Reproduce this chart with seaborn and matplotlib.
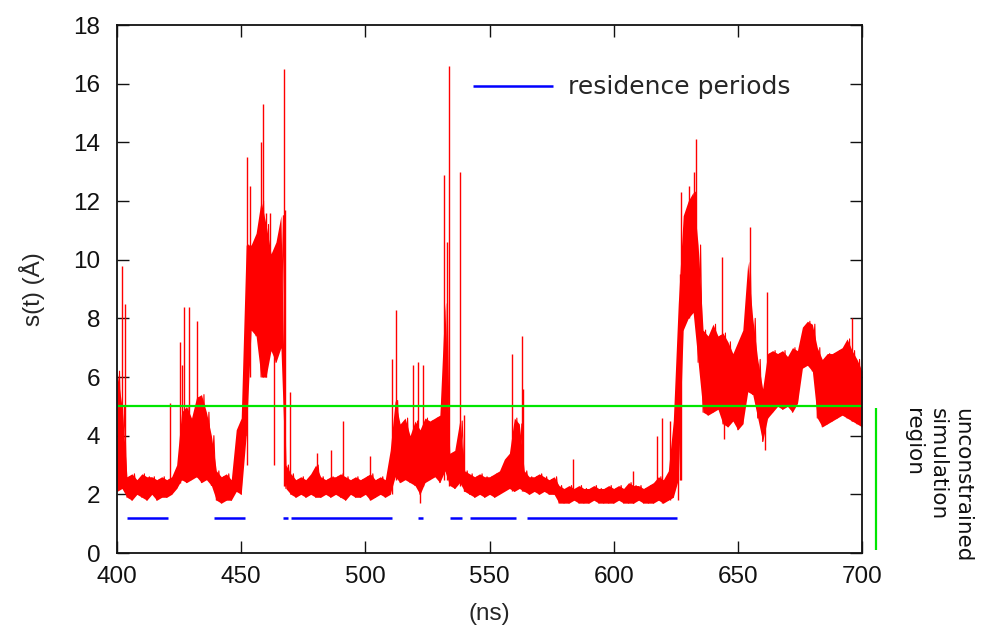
import numpy as np
import pandas as pd
import seaborn as sns
import matplotlib
matplotlib.use('Agg')
import matplotlib.pyplot as plt

# s(t) band, every 2 ns from 400 to 700
t = np.arange(400, 701, 2)
s_lo = [2.1, 2.2, 1.9, 1.8, 2.0, 1.9, 1.8, 2.0, 1.8, 1.9,   # 400-418
        1.9, 2.0, 2.2, 2.5, 2.4, 2.5, 2.6, 2.4, 2.5, 2.3,   # 420-438
        1.8, 1.7, 1.8, 1.8, 2.1, 2.0, 4.0, 7.6, 7.4, 6.0,   # 440-458
        6.0, 6.9, 6.5, 7.0, 2.2, 2.0, 1.9, 2.0, 1.9, 2.0,   # 460-478
        1.9, 1.9, 2.0, 1.9, 2.0, 1.9, 1.8, 2.0, 1.9, 1.9,   # 480-498
        2.0, 1.8, 1.9, 2.0, 1.9, 2.0, 2.6, 2.4, 2.5, 2.4,   # 500-518
        2.3, 2.0, 2.4, 2.5, 2.6, 2.4, 2.8, 2.3, 2.2, 2.4,   # 520-538
        2.1, 2.0, 1.9, 2.0, 1.9, 2.0, 1.9, 2.0, 2.1, 2.2,   # 540-558
        2.1, 2.2, 2.1, 2.0, 2.1, 2.0, 2.1, 2.0, 2.0, 1.7,   # 560-578
        1.7, 1.7, 1.8, 1.7, 1.7, 1.7, 1.8, 1.7, 1.7, 1.7,   # 580-598
        1.7, 1.8, 1.7, 1.7, 1.7, 1.8, 1.7, 1.7, 1.7, 1.8,   # 600-618
        1.7, 1.8, 1.9, 2.5, 7.6, 8.0, 8.2, 6.5, 4.8, 4.7,   # 620-638
        4.8, 4.9, 4.4, 4.3, 4.5, 4.2, 4.4, 5.5, 5.4, 4.6,   # 640-658
        3.8, 4.6, 4.8, 5.0, 4.9, 5.0, 4.8, 5.1, 6.3, 6.4,   # 660-678
        6.2, 4.6, 4.3, 4.4, 4.5, 4.6, 4.7, 4.6, 4.5, 4.4,   # 680-698
        4.3]
s_hi = [6.2, 5.0, 2.6, 2.7, 2.5, 2.7, 2.6, 2.6, 2.5, 2.6,
        2.5, 2.6, 3.0, 4.8, 5.0, 4.6, 5.3, 5.4, 4.8, 4.0,
        2.8, 2.6, 2.7, 2.5, 4.2, 4.6, 10.5, 10.5, 10.9, 12.0,
        11.2, 10.2, 10.6, 11.5, 3.0, 2.7, 2.5, 2.6, 2.5, 2.7,
        3.0, 2.6, 2.5, 2.6, 2.6, 2.7, 2.6, 2.5, 2.6, 2.5,
        2.6, 2.7, 2.5, 2.6, 2.5, 3.5, 5.2, 4.4, 4.6, 4.0,
        4.5, 4.2, 4.6, 4.5, 4.6, 4.7, 8.5, 3.4, 3.5, 4.5,
        2.8, 2.7, 2.6, 2.7, 2.6, 2.6, 2.7, 2.8, 3.2, 3.4,
        4.6, 4.4, 2.8, 2.6, 2.6, 2.7, 2.6, 2.5, 2.6, 2.3,
        2.2, 2.3, 2.2, 2.3, 2.2, 2.2, 2.3, 2.2, 2.2, 2.3,
        2.2, 2.3, 2.2, 2.4, 2.3, 2.3, 2.2, 2.3, 2.4, 2.6,
        2.5, 2.8, 4.5, 8.5, 11.5, 12.0, 12.3, 10.5, 7.6, 7.4,
        7.8, 7.4, 7.5, 7.2, 6.8, 7.2, 7.6, 9.9, 8.0, 6.6,
        5.6, 6.8, 6.9, 6.8, 6.9, 6.7, 7.0, 6.9, 7.7, 7.9,
        7.8, 7.0, 6.6, 6.8, 6.8, 6.9, 7.0, 7.3, 6.9, 6.6,
        6.2]

# single spikes / dips sticking out of the band
spike_t = [401.9, 403.2, 421.3, 425.5, 426.2, 427.0, 429.0, 432.3, 452.3, 453.5,
           457.8, 458.7, 460.0, 461.6, 463.2, 467.2, 467.5, 469.7, 480.7, 486.2,
           490.8, 502.0, 510.8, 512.4, 519.3, 521.1, 522.0, 523.4, 531.8, 532.7,
           533.5, 538.3, 539.9, 559.2, 562.9, 563.6, 583.5, 607.6, 617.3, 619.3,
           622.6, 625.9, 626.6, 627.0, 630.4, 632.5, 633.3, 643.6, 644.3, 654.8,
           660.8, 661.6, 696.0]
spike_bot = [2.2, 2.2, 2.0, 2.4, 2.5, 2.5, 2.5, 2.6, 3.0, 6.0,
             6.5, 6.0, 6.0, 6.9, 3.0, 2.3, 2.3, 2.1, 2.0, 2.0,
             2.0, 1.9, 2.0, 2.5, 2.4, 2.3, 1.7, 2.3, 2.5, 2.5,
             2.3, 2.3, 2.1, 2.1, 2.1, 2.1, 1.8, 1.7, 1.8, 1.7,
             1.8, 1.8, 2.5, 2.5, 8.0, 8.2, 8.2, 4.8, 3.9, 5.5,
             3.5, 4.6, 4.5]
spike_top = [9.8, 8.5, 5.1, 7.2, 6.4, 8.4, 8.4, 7.9, 13.5, 12.5,
             14.0, 15.3, 11.6, 11.6, 9.0, 16.5, 11.7, 5.5, 3.4, 3.5,
             4.5, 3.3, 6.6, 8.3, 6.4, 6.5, 3.5, 6.4, 12.9, 10.6,
             16.6, 13.0, 4.7, 6.8, 7.4, 5.6, 3.2, 2.8, 4.0, 4.6,
             4.5, 6.0, 9.5, 12.3, 12.5, 13.0, 14.1, 10.1, 6.0, 11.1,
             5.5, 8.9, 8.0]

# residence periods (ns)
res_start = [403.9, 439.2, 466.7, 469.9, 521.3, 534.1, 542.2, 565.0]
res_end = [420.4, 451.5, 469.0, 510.6, 523.4, 539.1, 560.5, 625.4]
res_level = 1.2

threshold = 5.0
unconstr_x = 705.7
GREEN = '#00e600'

sns.set_theme(style='ticks')
plt.rcParams['font.family'] = ['Liberation Sans', 'DejaVu Sans']

fig = plt.figure(figsize=(9.81, 6.3), dpi=100)
ax = fig.add_axes([0.1193, 0.1222, 0.7594, 0.8381])

zig = pd.DataFrame({'ns': np.column_stack([t, t + 1]).ravel(),
                    's': np.column_stack([s_lo, s_hi]).ravel()})
ax.fill_between(t, s_lo, s_hi, color='red', lw=0)
sns.lineplot(data=zig, x='ns', y='s', sort=False, estimator=None,
             color='red', lw=0.8, ax=ax)
ax.vlines(spike_t, spike_bot, spike_top, color='red', lw=1.0)

ax.axhline(threshold, color=GREEN, lw=1.6)
ax.vlines(unconstr_x, 0.1, 4.95, color=GREEN, lw=1.6, clip_on=False)
ax.hlines([res_level] * len(res_start), res_start, res_end,
          color='blue', lw=1.8, label='residence periods')

ax.text(730.4, 4.95, 'unconstrained\nsimulation\nregion', rotation=270,
        ha='center', va='top', multialignment='left', fontsize=15.5,
        family='DejaVu Sans', color='#111111', clip_on=False, linespacing=1.3)

ax.set_xlim(400, 700)
ax.set_ylim(0, 18)
ax.set_xticks(range(400, 701, 50))
ax.set_yticks(range(0, 19, 2))
ax.tick_params(direction='in', length=8.5, width=1, top=True, right=True,
               labelsize=17.5, colors='#111111')
ax.tick_params(axis='x', pad=9)
ax.tick_params(axis='y', pad=12)
for sp in ax.spines.values():
    sp.set_linewidth(1.3)
    sp.set_color('#111111')

ax.set_xlabel('(ns)', fontsize=17.5, labelpad=11)
ax.set_ylabel('s(t) (Å)', fontsize=17.5, labelpad=20)

ax.legend(loc='center left', bbox_to_anchor=(0.478, 0.882), frameon=False,
          prop={'family': 'DejaVu Sans', 'size': 18}, handlelength=3.2,
          handletextpad=0.6, borderpad=0, borderaxespad=0)

fig.savefig('out.png', dpi=100)
